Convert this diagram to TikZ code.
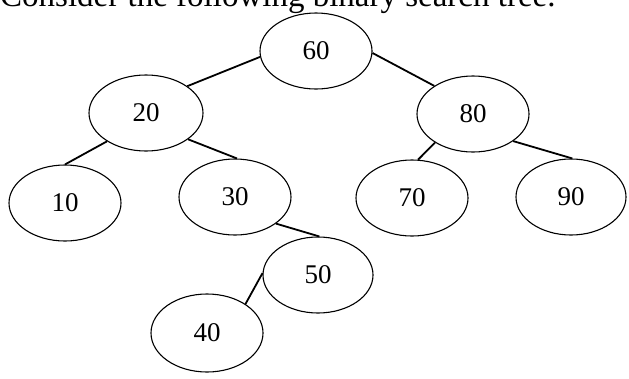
\documentclass[tikz,border=0pt]{standalone}
\usepackage{fontspec}
\setmainfont{Liberation Serif}
\usetikzlibrary{shapes.geometric}
\begin{document}
\begin{tikzpicture}[x=1pt,y=-1pt,
  bstnode/.style={ellipse,draw,line width=1.1pt,minimum width=112pt,minimum height=76pt,inner sep=0pt,
    font=\fontsize{27}{27}\selectfont},
  bstedge/.style={line width=1.8pt}]
\clip (0,0) rectangle (629,378);
\useasboundingbox (0,0) rectangle (629,378);
\fill[white] (0,0) rectangle (629,378);
\node[anchor=base west,inner sep=0pt,font=\fontsize{33}{33}\selectfont] (title) at (0,6) {Consider the following binary search tree.};
\node[bstnode] (n60) at (316,51) {60};
\node[bstnode,minimum width=114pt] (n20) at (146,113) {20};
\node[bstnode] (n80) at (473,114) {80};
\node[bstnode] (n10) at (65,203) {10};
\node[bstnode] (n30) at (235,197) {30};
\node[bstnode] (n70) at (412,198) {70};
\node[bstnode,minimum width=110pt] (n90) at (571,197) {90};
\node[bstnode,minimum width=110pt] (n50) at (318,275) {50};
\node[bstnode,minimum height=78pt] (n40) at (207,333) {40};
\draw[bstedge] (n60.186) -- (n20.33);
\draw[bstedge] (n60.358) -- (n80.144);
\draw[bstedge] (n20.216) -- (n10.north);
\draw[bstedge] (n20.328) -- (n30.87);
\draw[bstedge] (n80.217) -- (n70.81);
\draw[bstedge] (n80.326) -- (n90.88);
\draw[bstedge] (n30.327) -- (n50.88);
\draw[bstedge] (n50.178) -- (n40.37);
\end{tikzpicture}
\end{document}
